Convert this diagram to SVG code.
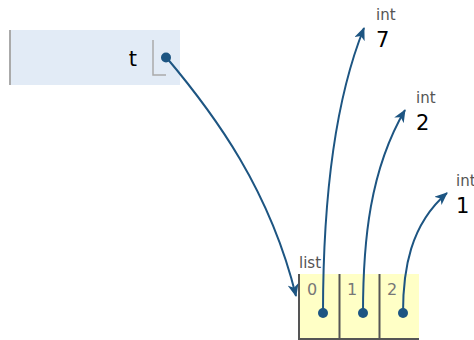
<svg xmlns="http://www.w3.org/2000/svg" width="474" height="340" viewBox="0 0 474 340">
<style>
text{font-family:"DejaVu Sans",Verdana,sans-serif}
.type{fill:#555;font-size:15px}
.val{fill:#000;font-size:21px}
.idx{fill:#777;font-size:16px}
.var{fill:#000;font-size:21px}
.ptr{fill:none;stroke:#1d5582;stroke-width:2;marker-end:url(#ah)}
.dot{fill:#1d5582}
.sep{stroke:#555;stroke-width:2}
</style>
<defs>
<marker id="ah" viewBox="0 0 13 11" refX="12" refY="5.5" markerWidth="13" markerHeight="11" markerUnits="userSpaceOnUse" orient="auto">
<path d="M0,0 L13,5.5 L0,11 L3.5,5.5 z" fill="#1d5582"/>
</marker>
</defs>
<g id="frame">
<rect x="10" y="30" width="170" height="55" fill="#e2ebf6"/>
<line x1="10" y1="30" x2="10" y2="85" stroke="#aaa" stroke-width="2"/>
<text class="var" x="137" y="66" text-anchor="end">t</text>
<polyline points="153,40 153,75 166,75" fill="none" stroke="#aaa" stroke-width="1.5"/>
</g>
<g id="list">
<rect x="299" y="274" width="120" height="66" fill="#ffffc6"/>
<text class="type" x="299" y="268">list</text>
<line class="sep" x1="299" y1="274" x2="299" y2="340"/>
<line class="sep" x1="339.5" y1="274" x2="339.5" y2="340"/>
<line class="sep" x1="379.5" y1="274" x2="379.5" y2="340"/>
<line class="sep" x1="299" y1="339" x2="419" y2="339"/>
<text class="idx" x="307" y="295">0</text>
<text class="idx" x="347" y="295">1</text>
<text class="idx" x="387" y="295">2</text>
</g>
<g id="int7">
<text class="type" x="376" y="20">int</text>
<text class="val" x="376" y="47">7</text>
</g>
<g id="int2">
<text class="type" x="416" y="103">int</text>
<text class="val" x="416" y="130">2</text>
</g>
<g id="int1">
<text class="type" x="456" y="186">int</text>
<text class="val" x="456" y="213">1</text>
</g>
<g id="connectors">
<path class="ptr" d="M166,57 C215,115 270,190 296,296"/>
<path class="ptr" d="M323,313 C323,200 335,100 364,28"/>
<path class="ptr" d="M363,313 C363,240 370,170 405,110"/>
<path class="ptr" d="M403,313 C403,270 410,225 447,193"/>
<circle class="dot" cx="166" cy="57.5" r="5"/>
<circle class="dot" cx="323" cy="313" r="5"/>
<circle class="dot" cx="363" cy="313" r="5"/>
<circle class="dot" cx="403" cy="313" r="5"/>
</g>
</svg>
